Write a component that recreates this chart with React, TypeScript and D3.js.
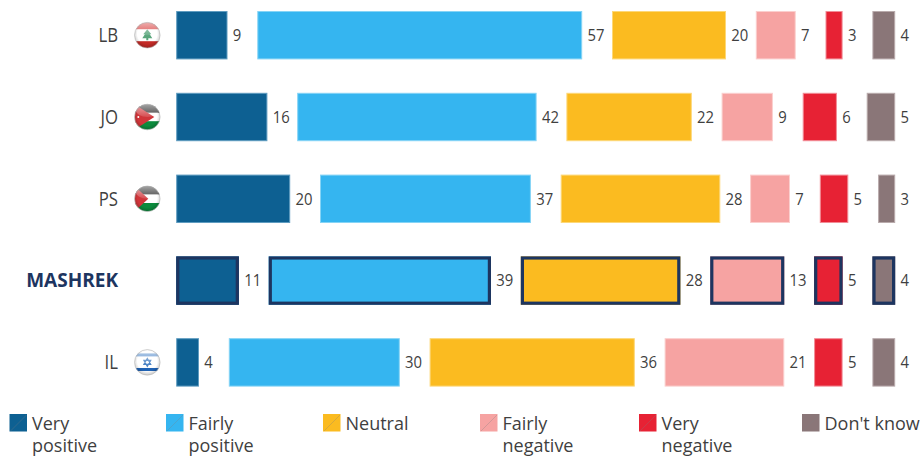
import React from "react";
import * as d3 from "d3";

const categories = ["Very positive", "Fairly positive", "Neutral", "Fairly negative", "Very negative", "Don't know"];
const colors = ["#0d6092", "#35b5f0", "#fbbb20", "#f6a3a2", "#e72234", "#8a7678"];
const edgeColors = ["#5f9cc0", "#86d4f6", "#fdd878", "#fbcfce", "#f28d97", "#b9abac"];

const regions = ["LB", "JO", "PS", "MASHREK", "IL"];
const lb = [9, 57, 20, 7, 3, 4];
const jo = [16, 42, 22, 9, 6, 5];
const ps = [20, 37, 28, 7, 5, 3];
const mashrek = [11, 39, 28, 13, 5, 4];
const il = [4, 30, 36, 21, 5, 4];
const rows = [lb, jo, ps, mashrek, il];

const legendX = [9.5, 166, 323, 480, 639, 802];
const legendLines = [["Very", "positive"], ["Fairly", "positive"], ["Neutral"], ["Fairly", "negative"], ["Very", "negative"], ["Don't know"]];

const FONT = "'Open Sans', 'Noto Sans', sans-serif";
const INK = "#3f3f3f";
const NAVY = "#1d3560";
const GAP = 29.8;
const BAR_START = 176.2;
const NARROW = 0.86;
const NARROW_VALUE = 0.9;

const x = d3.scaleLinear().domain([0, 100]).range([0, 570]);
const y = d3.scaleBand<string>().domain(regions).range([11, 386.6]).paddingInner(0.408).paddingOuter(0);

function Flag({ code, id }: { code: string; id: string }) {
  const r = 12.8;
  const clip = `url(#clip-${id})`;
  return (
    <g>
      <clipPath id={`clip-${id}`}>
        <circle r={r} />
      </clipPath>
      <g clipPath={clip}>
        {code === "LB" && (
          <>
            <rect x={-r} y={-r} width={2 * r} height={2 * r} fill="#ffffff" />
            <rect x={-r} y={-r} width={2 * r} height={6.8} fill="#d8403f" />
            <rect x={-r} y={6} width={2 * r} height={6.8} fill="#c42a26" />
            <path d="M0,-6 L4,-1 L2.4,-1 L5,3 L1,3 L1,5 L-1,5 L-1,3 L-5,3 L-2.4,-1 L-4,-1 Z" fill="#5aa67c" />
          </>
        )}
        {(code === "JO" || code === "PS") && (
          <>
            <rect x={-r} y={-r} width={2 * r} height={8.6} fill="#2a2a2a" />
            <rect x={-r} y={-4.2} width={2 * r} height={8.4} fill="#ffffff" />
            <rect x={-r} y={4.2} width={2 * r} height={8.6} fill="#0b8a3c" />
            <path d={code === "JO" ? "M-12.8,-12.8 L7,0 L-12.8,12.8 Z" : "M-12.8,-12.8 L1,0 L-12.8,12.8 Z"} fill="#d0353a" />
            {code === "JO" && <circle cx={-9} cy={0} r={1} fill="#ffffff" />}
          </>
        )}
        {code === "IL" && (
          <>
            <rect x={-r} y={-r} width={2 * r} height={2 * r} fill="#ffffff" />
            <rect x={-r} y={-9} width={2 * r} height={3} fill="#5f93cf" />
            <rect x={-r} y={5.6} width={2 * r} height={3} fill="#1f62b4" />
            <path d="M0,-4 L3.5,2 L-3.5,2 Z M0,4 L3.5,-2 L-3.5,-2 Z" fill="none" stroke="#4f86c6" strokeWidth={1.1} />
          </>
        )}
        <circle r={r} fill="url(#flag-shade)" />
        <ellipse cy={-7} rx={11.5} ry={7} fill="url(#flag-gloss)" />
      </g>
      <circle r={r} fill="none" stroke="#b5b5b5" strokeOpacity={0.8} strokeWidth={0.8} />
    </g>
  );
}

export default function App() {
  return (
    <svg width={924} height={457} style={{ position: "absolute", left: 0, top: 0, background: "#ffffff" }} fontFamily={FONT}>
      <defs>
        <radialGradient id="flag-shade" cx="50%" cy="45%" r="55%">
          <stop offset="70%" stopColor="#000000" stopOpacity={0} />
          <stop offset="100%" stopColor="#000000" stopOpacity={0.22} />
        </radialGradient>
        <linearGradient id="flag-gloss" x1="0" y1="0" x2="0" y2="1">
          <stop offset="0%" stopColor="#ffffff" stopOpacity={0.62} />
          <stop offset="100%" stopColor="#ffffff" stopOpacity={0.12} />
        </linearGradient>
      </defs>

      {regions.map((region, ri) => {
        const values = rows[ri];
        const top = y(region) as number;
        const h = y.bandwidth();
        const mid = top + h / 2;
        const isTotal = region === "MASHREK";
        let cursor = BAR_START;
        return (
          <g key={region}>
            {isTotal ? (
              <text x={118} y={mid + 6.5} textAnchor="end" fontSize={19} fontWeight={700} fill={NAVY}>
                {region}
              </text>
            ) : (
              <>
                <text transform={`translate(118,${mid + 7}) scale(${NARROW},1)`} textAnchor="end" fontSize={19.5} fill={INK}>
                  {region}
                </text>
                <g transform={`translate(147.3,${mid})`}>
                  <Flag code={region} id={region} />
                </g>
              </>
            )}
            {values.map((v, i) => {
              const bx = cursor;
              const w = x(v);
              cursor += w + GAP;
              return (
                <g key={categories[i]}>
                  {isTotal ? (
                    <>
                      <rect x={bx} y={top} width={w} height={h} fill={colors[i]} />
                      <rect x={bx + 1.6} y={top + 1.6} width={w - 3.2} height={h - 3.2} fill="none" stroke={NAVY} strokeWidth={3.2} />
                    </>
                  ) : (
                    <rect x={bx + 0.5} y={top + 0.5} width={w - 1} height={h - 1} fill={colors[i]} stroke={edgeColors[i]} strokeWidth={1} />
                  )}
                  <text transform={`translate(${bx + w + 5.3},${mid + 5.8}) scale(${NARROW_VALUE},1)`} fontSize={16.5} fill={INK}>
                    {v}
                  </text>
                </g>
              );
            })}
          </g>
        );
      })}

      {categories.map((c, i) => (
        <g key={c}>
          <rect x={legendX[i]} y={414} width={17.5} height={17.5} fill={colors[i]} />
          <line x1={legendX[i] + 1} y1={431} x2={legendX[i] + 17} y2={415} stroke="#808080" strokeOpacity={0.5} strokeWidth={0.6} />
          <text fontSize={18} fill={INK}>
            {legendLines[i].map((line, li) => (
              <tspan key={line} x={legendX[i] + 22.5} y={430 + li * 22}>
                {line}
              </tspan>
            ))}
          </text>
        </g>
      ))}
    </svg>
  );
}
